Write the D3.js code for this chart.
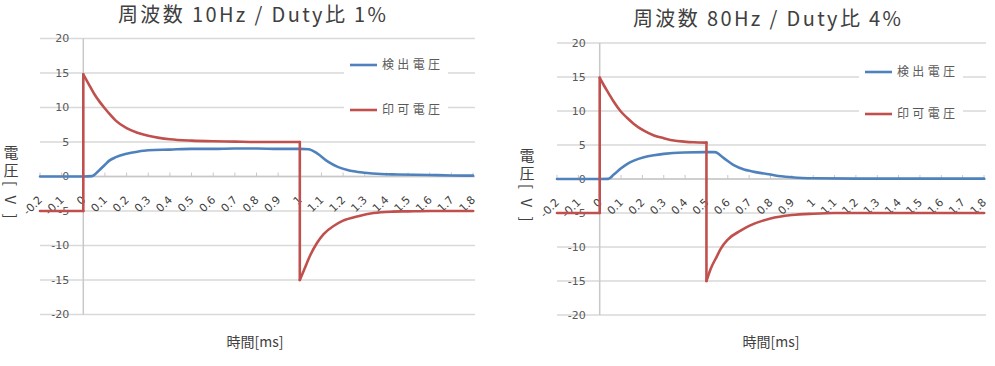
<!DOCTYPE html>
<html><head><meta charset="utf-8">
<script src="https://cdn.jsdelivr.net/npm/d3@7"></script>
<style>html,body{margin:0;padding:0;background:#fff;} svg{display:block;}</style>
</head><body>
<svg id="c" width="995" height="366"></svg>
<script>
// ---------------- data ----------------
const seriesNames = ["検出電圧", "印可電圧"];
const xTickLabels = ["-0.2","-0.1","0","0.1","0.2","0.3","0.4","0.5","0.6","0.7","0.8","0.9","1","1.1","1.2","1.3","1.4","1.5","1.6","1.7","1.8"];
const yTickValues = [20, 15, 10, 5, 0, -5, -10, -15, -20];
const xAxisTitle = "時間[ms]";
const yAxisTitle = "電圧[ V ]";

// Chart A: 10Hz / 1%
const titleA = "周波数 10Hz / Duty比 1%";
const detectTimeA = [-0.2,-0.1,0,0.04,0.075,0.1,0.12,0.15,0.2,0.25,0.3,0.4,0.5,0.6,0.7,0.8,0.9,1.0,1.04,1.08,1.13,1.175,1.22,1.3,1.375,1.45,1.6,1.7,1.8];
const detectVoltA = [0,0,0,0.05,0.95,1.7,2.3,2.8,3.3,3.6,3.8,3.9,4.0,4.0,4.05,4.05,4.0,4.0,3.95,3.35,2.15,1.4,0.95,0.55,0.36,0.3,0.22,0.15,0.12];
const appliedTimeA = [-0.2,-0.1,0,0,0.03,0.05,0.075,0.1,0.12,0.15,0.2,0.25,0.3,0.35,0.4,0.5,0.6,0.7,0.8,0.9,1.0,1.0,1.02,1.05,1.08,1.11,1.16,1.2,1.27,1.34,1.42,1.5,1.6,1.7,1.8];
const appliedVoltA = [-5,-5,-5,14.8,13.1,12.0,10.85,9.85,9.1,8.1,7.0,6.35,5.9,5.6,5.4,5.2,5.1,5.05,5.0,5.0,5.0,-15.0,-13.5,-11.3,-9.6,-8.35,-7.1,-6.4,-5.75,-5.3,-5.1,-5.05,-5.0,-5.0,-5.0];

// Chart B: 80Hz / 4%
const titleB = "周波数 80Hz / Duty比 4%";
const detectTimeB = [-0.2,-0.1,0,0.04,0.066,0.097,0.128,0.16,0.207,0.254,0.3,0.394,0.49,0.54,0.58,0.63,0.676,0.71,0.75,0.8,0.85,0.9,0.95,1.0,1.2,1.5,1.8];
const detectVoltB = [0,0,0,0.02,0.65,1.5,2.2,2.7,3.2,3.5,3.7,3.9,3.95,3.95,3.1,2.0,1.4,1.15,0.9,0.65,0.4,0.25,0.15,0.1,0.05,0.05,0.05];
const appliedTimeB = [-0.2,-0.1,0,0,0.02,0.042,0.066,0.097,0.128,0.16,0.207,0.254,0.3,0.347,0.394,0.44,0.5,0.5,0.52,0.55,0.566,0.6,0.66,0.7,0.8,0.9,1.0,1.1,1.3,1.5,1.8];
const appliedVoltB = [-5,-5,-5,14.9,13.75,12.6,11.35,10.0,9.0,8.1,7.1,6.4,6.0,5.65,5.5,5.4,5.35,-15.0,-13.2,-11.3,-10.3,-8.9,-7.6,-6.9,-5.8,-5.3,-5.1,-5.0,-5.0,-5.0,-5.0];

// ---------------- drawing ----------------
const colors = ["#4F81BD", "#C0504D"];
const svg = d3.select("#c");

function drawChart(cfg) {
  const g = svg.append("g");
  const x = d3.scaleLinear().domain([-0.2, 1.8]).range([cfg.x0, cfg.x1]);
  const y = d3.scaleLinear().domain([-20, 20]).range([cfg.yBot, cfg.yTop]);
  const y0 = y(0);

  // gridlines
  g.append("g").selectAll("line").data(yTickValues).join("line")
    .attr("x1", cfg.x0).attr("x2", cfg.x1 + 2)
    .attr("y1", d => y(d)).attr("y2", d => y(d))
    .attr("stroke", "#d9d9d9").attr("stroke-width", 1.5);

  // y axis (at x=0)
  g.append("line").attr("x1", x(0)).attr("x2", x(0))
    .attr("y1", y(20)).attr("y2", y(-20))
    .attr("stroke", "#c8c8c8").attr("stroke-width", 1.5);

  // y tick labels
  g.append("g").selectAll("text").data(yTickValues).join("text")
    .attr("x", x(0) - 14).attr("y", d => y(d))
    .attr("dy", "0.35em").attr("text-anchor", "end")
    .attr("font-family", "DejaVu Sans").attr("font-size", 11)
    .attr("fill", "#595959").text(d => d);

  // x axis line at 0
  const xTicks = xTickLabels.map(Number);
  g.append("line").attr("x1", cfg.x0).attr("x2", cfg.x1 + 2)
    .attr("y1", y0).attr("y2", y0)
    .attr("stroke", "#c8c8c8").attr("stroke-width", 1.5);
  g.append("g").selectAll("line").data(xTicks).join("line")
    .attr("x1", d => x(d)).attr("x2", d => x(d))
    .attr("y1", y0 - 4).attr("y2", y0)
    .attr("stroke", "#c8c8c8").attr("stroke-width", 1);

  // x tick labels (rotated)
  g.append("g").selectAll("text").data(xTickLabels).join("text")
    .attr("transform", d => `translate(${x(+d) + 3},${y0 + 24}) rotate(-45)`)
    .attr("text-anchor", "end")
    .attr("font-family", "DejaVu Sans").attr("font-size", 11)
    .attr("fill", "#404040").text(d => d);

  // title
  g.append("text").attr("x", cfg.titleX).attr("y", cfg.titleY)
    .attr("text-anchor", "middle")
    .attr("font-family", "Noto Sans CJK JP").attr("font-size", 20)
    .attr("fill", "#404040")
    .attr("textLength", 268).attr("lengthAdjust", "spacing")
    .text(cfg.title);

  // x axis title
  g.append("text").attr("x", cfg.xTitleX).attr("y", cfg.xTitleY)
    .attr("text-anchor", "middle")
    .attr("font-family", "Noto Sans CJK JP").attr("font-size", 14)
    .attr("fill", "#404040").text(xAxisTitle);

  // y axis title (vertical writing)
  g.append("text").attr("x", cfg.yTitleX).attr("y", cfg.yTitleY)
    .style("writing-mode", "vertical-rl").style("text-orientation", "mixed")
    .style("letter-spacing", "3px")
    .attr("font-family", "Noto Sans CJK JP").attr("font-size", 15)
    .attr("fill", "#404040").text(yAxisTitle);

  // lines
  const line = d3.line().x(d => x(d[0])).y(d => y(d[1])).curve(d3.curveMonotoneX);
  function drawSeries(ts, vs, color) {
    const pts = ts.map((t, i) => [t, vs[i]]);
    const runs = [[pts[0]]];
    for (let i = 1; i < pts.length; i++) {
      if (pts[i][0] === pts[i - 1][0]) runs.push([pts[i]]);
      else runs[runs.length - 1].push(pts[i]);
    }
    runs.forEach((r, k) => {
      g.append("path").attr("d", line(r)).attr("fill", "none")
        .attr("stroke", color).attr("stroke-width", 2.6)
        .attr("stroke-linejoin", "round").attr("stroke-linecap", "round");
      if (k > 0) {
        const p = runs[k - 1][runs[k - 1].length - 1];
        g.append("line").attr("x1", x(p[0])).attr("y1", y(p[1]))
          .attr("x2", x(r[0][0])).attr("y2", y(r[0][1]))
          .attr("stroke", color).attr("stroke-width", 2.6).attr("stroke-linecap", "round");
      }
    });
  }
  drawSeries(cfg.detT, cfg.detV, colors[0]);
  drawSeries(cfg.appT, cfg.appV, colors[1]);

  // legend
  const L = cfg.legend;
  g.append("rect").attr("x", L.x).attr("y", L.y).attr("width", L.w).attr("height", L.h).attr("fill", "#fff");
  seriesNames.forEach((name, i) => {
    const ly = L.itemY[i];
    g.append("line").attr("x1", L.x + 6).attr("x2", L.x + 33)
      .attr("y1", ly).attr("y2", ly)
      .attr("stroke", colors[i]).attr("stroke-width", 2.6);
    g.append("text").attr("x", L.x + 38).attr("y", ly).attr("dy", "0.36em")
      .attr("font-family", "Noto Sans CJK JP").attr("font-size", 12)
      .attr("fill", "#595959")
      .attr("textLength", 58).attr("lengthAdjust", "spacing")
      .text(name);
  });
}

drawChart({
  title: titleA, x0: 40, x1: 473, yTop: 38.5, yBot: 314.5,
  titleX: 252, titleY: 22, xTitleX: 255, xTitleY: 347,
  yTitleX: 11, yTitleY: 145,
  detT: detectTimeA, detV: detectVoltA, appT: appliedTimeA, appV: appliedVoltA,
  legend: { x: 344, y: 56, w: 104, h: 64, itemY: [65, 110] }
});
drawChart({
  title: titleB, x0: 557, x1: 984, yTop: 43, yBot: 315,
  titleX: 767, titleY: 26, xTitleX: 771, xTitleY: 347,
  yTitleX: 527, yTitleY: 148,
  detT: detectTimeB, detV: detectVoltB, appT: appliedTimeB, appV: appliedVoltB,
  legend: { x: 859, y: 62, w: 104, h: 64, itemY: [72, 114] }
});
</script>
</body></html>
